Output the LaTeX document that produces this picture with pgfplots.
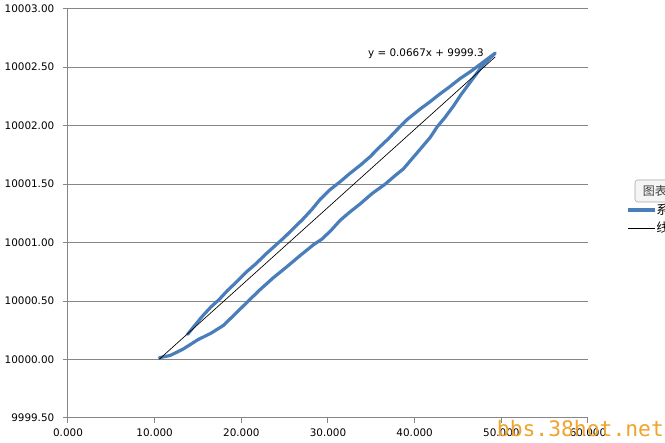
\documentclass[border=0pt]{standalone}
\usepackage{pgfplots}
\pgfplotsset{compat=1.18}
\usepackage{fontspec}
\setmainfont{DejaVu Sans}
\newfontfamily\cjk{Noto Sans CJK SC}
\newfontfamily\wm{DejaVu Sans Mono}
\definecolor{xlblue}{RGB}{74,126,187}
\definecolor{xlgrid}{RGB}{134,134,134}
\definecolor{wmorange}{RGB}{240,163,45}

\pgfplotstableread{
x y
10.54 10000.015
11.8 10000.035
13.3 10000.09
15.0 10000.17
16.5 10000.225
17.9 10000.29
19.3 10000.39
20.8 10000.50
22.2 10000.60
23.7 10000.70
25.2 10000.79
26.8 10000.89
28.3 10000.98
29.3 10001.03
30.3 10001.10
31.4 10001.19
32.5 10001.26
33.7 10001.33
35.1 10001.42
36.6 10001.50
37.7 10001.57
38.7 10001.63
39.5 10001.70
40.2 10001.76
41.0 10001.83
41.8 10001.90
42.6 10001.99
43.5 10002.07
44.5 10002.17
45.4 10002.27
46.4 10002.37
47.2 10002.45
47.9 10002.52
48.6 10002.57
49.3 10002.62
48.4 10002.57
47.5 10002.52
46.6 10002.47
45.2 10002.40
44.0 10002.33
42.9 10002.27
41.7 10002.20
40.6 10002.14
39.1 10002.05
37.9 10001.96
37.0 10001.89
36.0 10001.82
34.8 10001.73
33.7 10001.66
32.5 10001.59
31.4 10001.52
30.2 10001.45
29.1 10001.37
28.1 10001.28
27.1 10001.20
26.0 10001.12
24.9 10001.04
24.0 10000.98
22.8 10000.90
21.7 10000.82
20.6 10000.75
19.4 10000.66
18.4 10000.59
17.4 10000.51
16.5 10000.45
15.5 10000.37
14.5 10000.28
13.8 10000.215
}\seriesone

\pgfplotstableread{
x y
10.54 10000.003
49.3 10002.588
}\trend

\begin{document}
\begin{tikzpicture}
\useasboundingbox (-51pt,-18.75pt) rectangle (447.75pt,313.5pt);
\begin{axis}[
  at={(0,0)}, anchor=south west,
  scale only axis, width=390pt, height=307pt,
  xmin=0, xmax=60, ymin=9999.5, ymax=10003,
  xtick={0,10,20,30,40,50,60},
  ytick={9999.5,10000,10000.5,10001,10001.5,10002,10002.5,10003},
  scaled x ticks=false, scaled y ticks=false,
  axis lines*=left,
  axis line style={xlgrid, line width=0.75pt},
  ymajorgrids,
  major grid style={xlgrid, line width=0.75pt},
  tick align=outside,
  major tick length=3.75pt,
  tick style={xlgrid, line width=0.75pt},
  tick label style={font=\fontsize{7.8}{9}\selectfont, text=black},
  /pgf/number format/assume math mode=true,
  xticklabel style={yshift=-1pt, /pgf/number format/fixed, /pgf/number format/fixed zerofill, /pgf/number format/precision=3, /pgf/number format/1000 sep={}},
  yticklabel style={xshift=-3pt, /pgf/number format/fixed, /pgf/number format/fixed zerofill, /pgf/number format/precision=2, /pgf/number format/1000 sep={}},
  clip=false,
]
\addplot[xlblue, line width=2.4pt, line join=round, line cap=round] table[x=x,y=y] {\seriesone};
\addplot[black, line width=0.5pt] table[x=x,y=y] {\trend};
\node[font=\fontsize{7.8}{9}\selectfont] at (axis cs:41.3,10002.615) {y = 0.0667x + 9999.3};
\end{axis}
% legend (partly cut off at the right edge, as in the reference)
\draw[xlblue, line width=2.4pt] (420pt,156pt) -- (440pt,156pt);
\node[anchor=west, inner sep=1pt, font=\cjk\fontsize{9.5}{11}\selectfont] at (440pt,156pt) {系列1};
\draw[black, line width=0.5pt] (420pt,142.5pt) -- (440pt,142.5pt);
\node[anchor=west, inner sep=1pt, font=\cjk\fontsize{9.5}{11}\selectfont] at (440pt,142.5pt) {线性 (系列1)};
% tooltip box
\draw[gray!70, fill=gray!8, rounded corners=2pt] (425.25pt,162pt) rectangle (460pt,178.5pt);
\node[anchor=west, inner sep=0pt, font=\cjk\fontsize{9}{11}\selectfont, text=black!75] at (431pt,170.25pt) {图表};
% watermark
\node[anchor=base west, inner sep=0pt, font=\wm\fontsize{16}{18}\selectfont, text=wmorange] at (321.5pt,-14pt) {bbs.38hot.net};
\end{tikzpicture}
\end{document}
